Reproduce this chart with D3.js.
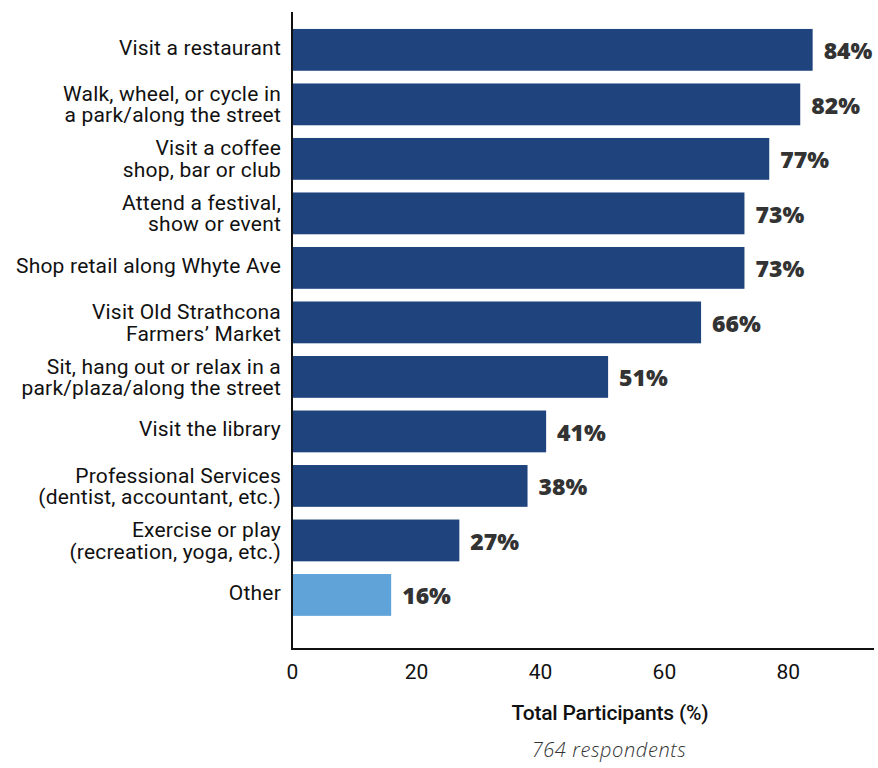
<!DOCTYPE html>
<html>
<head>
<meta charset="utf-8">
<script src="https://cdn.jsdelivr.net/npm/d3@7"></script>
<style>
  html, body { margin: 0; padding: 0; background: #fff; }
  svg { display: block; }
</style>
</head>
<body>
<svg id="chart" width="878" height="768"></svg>
<script>
// ---- data ----
const categories = [
  ["Visit a restaurant"],
  ["Walk, wheel, or cycle in", "a park/along the street"],
  ["Visit a coffee", "shop, bar or club"],
  ["Attend a festival,", "show or event"],
  ["Shop retail along Whyte Ave"],
  ["Visit Old Strathcona", "Farmers\u2019 Market"],
  ["Sit, hang out or relax in a", "park/plaza/along the street"],
  ["Visit the library"],
  ["Professional Services", "(dentist, accountant, etc.)"],
  ["Exercise or play", "(recreation, yoga, etc.)"],
  ["Other"]
];
const values = [84, 82, 77, 73, 73, 66, 51, 41, 38, 27, 16];
const highlight = [false, false, false, false, false, false, false, false, false, false, true];
const xTicks = [0, 20, 40, 60, 80];
const xTitle = "Total Participants (%)";
const note = "764 respondents";

// ---- layout ----
const svg = d3.select("#chart");
const x0 = 292, x1 = 874;
const yTop = 12, yAxis = 649;
const x = d3.scaleLinear().domain([0, 93.9]).range([x0, x1]);
const ids = categories.map((d, i) => i);
const y = d3.scaleBand().domain(ids).range([22.6, 622.2]).paddingInner(0.233).paddingOuter(0.1165);

const labelFont = "Roboto, 'Liberation Sans', sans-serif";

// bars
svg.append("g").selectAll("rect").data(ids).join("rect")
  .attr("x", x(0))
  .attr("y", i => y(i))
  .attr("width", i => x(values[i]) - x(0))
  .attr("height", y.bandwidth())
  .attr("fill", i => highlight[i] ? "#5fa3d9" : "#1e437d");

// value labels
svg.append("g").selectAll("text").data(ids).join("text")
  .attr("x", i => x(values[i]) + 11)
  .attr("y", i => y(i) + y.bandwidth() / 2 + 1)
  .attr("dy", "0.36em")
  .attr("font-family", "'Open Sans', sans-serif")
  .attr("font-weight", 800)
  .attr("font-size", 23)
  .attr("fill", "#333")
  .text(i => values[i] + "%");

// category labels
const lab = svg.append("g").selectAll("text").data(ids).join("text")
  .attr("text-anchor", "end")
  .attr("font-family", labelFont)
  .attr("font-size", 21)
  .attr("letter-spacing", "0.2px")
  .attr("fill", "#111");
lab.each(function(i) {
  const lines = categories[i];
  const cy = y(i) + y.bandwidth() / 2;
  const lh = 21.5;
  const t = d3.select(this);
  lines.forEach((ln, k) => {
    t.append("tspan")
      .attr("x", 281)
      .attr("y", cy + (k - (lines.length - 1) / 2) * lh)
      .attr("dy", lines.length === 1 ? "0.24em" : "0.35em")
      .text(ln);
  });
});

// axes lines
svg.append("line").attr("x1", x0).attr("x2", x0).attr("y1", yTop).attr("y2", yAxis + 1)
  .attr("stroke", "#111").attr("stroke-width", 2);
const xAxis = d3.axisBottom(x).tickValues(xTicks).tickSize(0).tickPadding(15);
const gx = svg.append("g").attr("transform", `translate(0,${yAxis})`).call(xAxis);
gx.select(".domain").attr("d", `M${x0},0H${x1}`).attr("stroke", "#111").attr("stroke-width", 2);
gx.selectAll(".tick text")
  .attr("font-family", labelFont)
  .attr("font-size", 21)
  .attr("fill", "#111");

// titles
svg.append("text")
  .attr("x", 610).attr("y", 720)
  .attr("text-anchor", "middle")
  .attr("font-family", labelFont)
  .attr("font-weight", 500)
  .attr("font-size", 21)
  .attr("letter-spacing", "-0.2px")
  .attr("fill", "#111")
  .text(xTitle);
svg.append("text")
  .attr("x", 609).attr("y", 757)
  .attr("text-anchor", "middle")
  .attr("font-family", "'Open Sans', sans-serif")
  .attr("font-style", "italic")
  .attr("font-weight", 300)
  .attr("font-size", 20)
  .attr("letter-spacing", "0.6px")
  .attr("fill", "#333")
  .text(note);
</script>
</body>
</html>
